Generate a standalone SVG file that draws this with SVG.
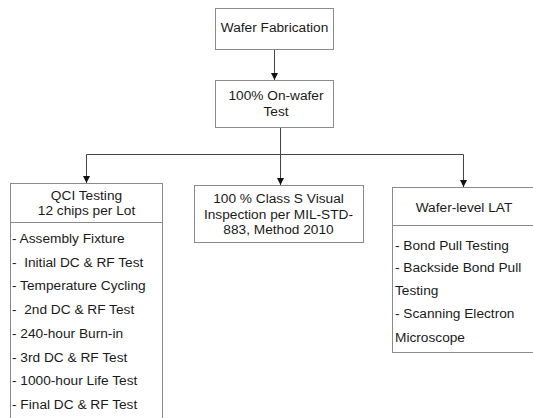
<svg xmlns="http://www.w3.org/2000/svg" width="533" height="418" viewBox="0 0 533 418">
<defs>
<marker id="arr" viewBox="0 0 7 7" refX="7" refY="3.5" markerWidth="7" markerHeight="7" markerUnits="userSpaceOnUse" orient="auto">
<path d="M0,0 L7,3.5 L0,7 Z" fill="#111"/>
</marker>
<style>
.box{fill:#fff;stroke:#8a8a8a;stroke-width:1}
.div{stroke:#8a8a8a;stroke-width:1}
.t{font-family:"Liberation Sans",Arial,sans-serif;font-size:13.7px;fill:#1a1a1a}
.c{text-anchor:middle}
.con{fill:none;stroke:#444;stroke-width:1}
</style>
</defs>
<rect width="533" height="418" fill="#fff"/>
<g id="connectors">
<line class="con" x1="274.5" y1="49" x2="274.5" y2="80" marker-end="url(#arr)"/>
<line class="con" x1="280.5" y1="127" x2="280.5" y2="154.5"/>
<line class="con" x1="86.5" y1="154.5" x2="463.5" y2="154.5"/>
<line class="con" x1="86.5" y1="154.5" x2="86.5" y2="183" marker-end="url(#arr)"/>
<line class="con" x1="280.5" y1="154.5" x2="280.5" y2="185" marker-end="url(#arr)"/>
<line class="con" x1="463.5" y1="154.5" x2="463.5" y2="187" marker-end="url(#arr)"/>
</g>
<g id="wafer-fabrication">
<rect class="box" x="215.5" y="8.5" width="118" height="41"/>
<text class="t c" x="274.5" y="32">Wafer Fabrication</text>
</g>
<g id="on-wafer-test">
<rect class="box" x="215.5" y="80.5" width="118" height="47"/>
<text class="t c" x="276" y="100">100% On-wafer</text>
<text class="t c" x="276" y="116">Test</text>
</g>
<g id="qci-testing">
<rect class="box" x="10.5" y="183.5" width="152" height="250"/>
<line class="div" x1="10.5" y1="222.5" x2="162.5" y2="222.5"/>
<text class="t c" x="86.5" y="200">QCI Testing</text>
<text class="t c" x="86.5" y="215">12 chips per Lot</text>
<text class="t" x="12" y="243" xml:space="preserve">- Assembly Fixture</text>
<text class="t" x="12" y="267" xml:space="preserve">-  Initial DC &amp; RF Test</text>
<text class="t" x="12" y="290" xml:space="preserve">- Temperature Cycling</text>
<text class="t" x="12" y="314" xml:space="preserve">-  2nd DC &amp; RF Test</text>
<text class="t" x="12" y="338" xml:space="preserve">- 240-hour Burn-in</text>
<text class="t" x="12" y="362" xml:space="preserve">- 3rd DC &amp; RF Test</text>
<text class="t" x="12" y="385" xml:space="preserve">- 1000-hour Life Test</text>
<text class="t" x="12" y="409" xml:space="preserve">- Final DC &amp; RF Test</text>
</g>
<g id="visual-inspection">
<rect class="box" x="194.5" y="185.5" width="169" height="57"/>
<text class="t c" x="278.5" y="203">100 % Class S Visual</text>
<text class="t c" x="278.5" y="219">Inspection per MIL-STD-</text>
<text class="t c" x="278.5" y="234">883, Method 2010</text>
</g>
<g id="wafer-level-lat">
<rect class="box" x="392.5" y="187.5" width="150" height="165"/>
<line class="div" x1="392.5" y1="225.5" x2="533" y2="225.5"/>
<text class="t c" x="464" y="212">Wafer-level LAT</text>
<text class="t" x="395" y="250" xml:space="preserve">- Bond Pull Testing</text>
<text class="t" x="395" y="272" xml:space="preserve">- Backside Bond Pull</text>
<text class="t" x="395" y="295" xml:space="preserve">Testing</text>
<text class="t" x="395" y="318" xml:space="preserve">- Scanning Electron</text>
<text class="t" x="395" y="342" xml:space="preserve">Microscope</text>
</g>
</svg>
